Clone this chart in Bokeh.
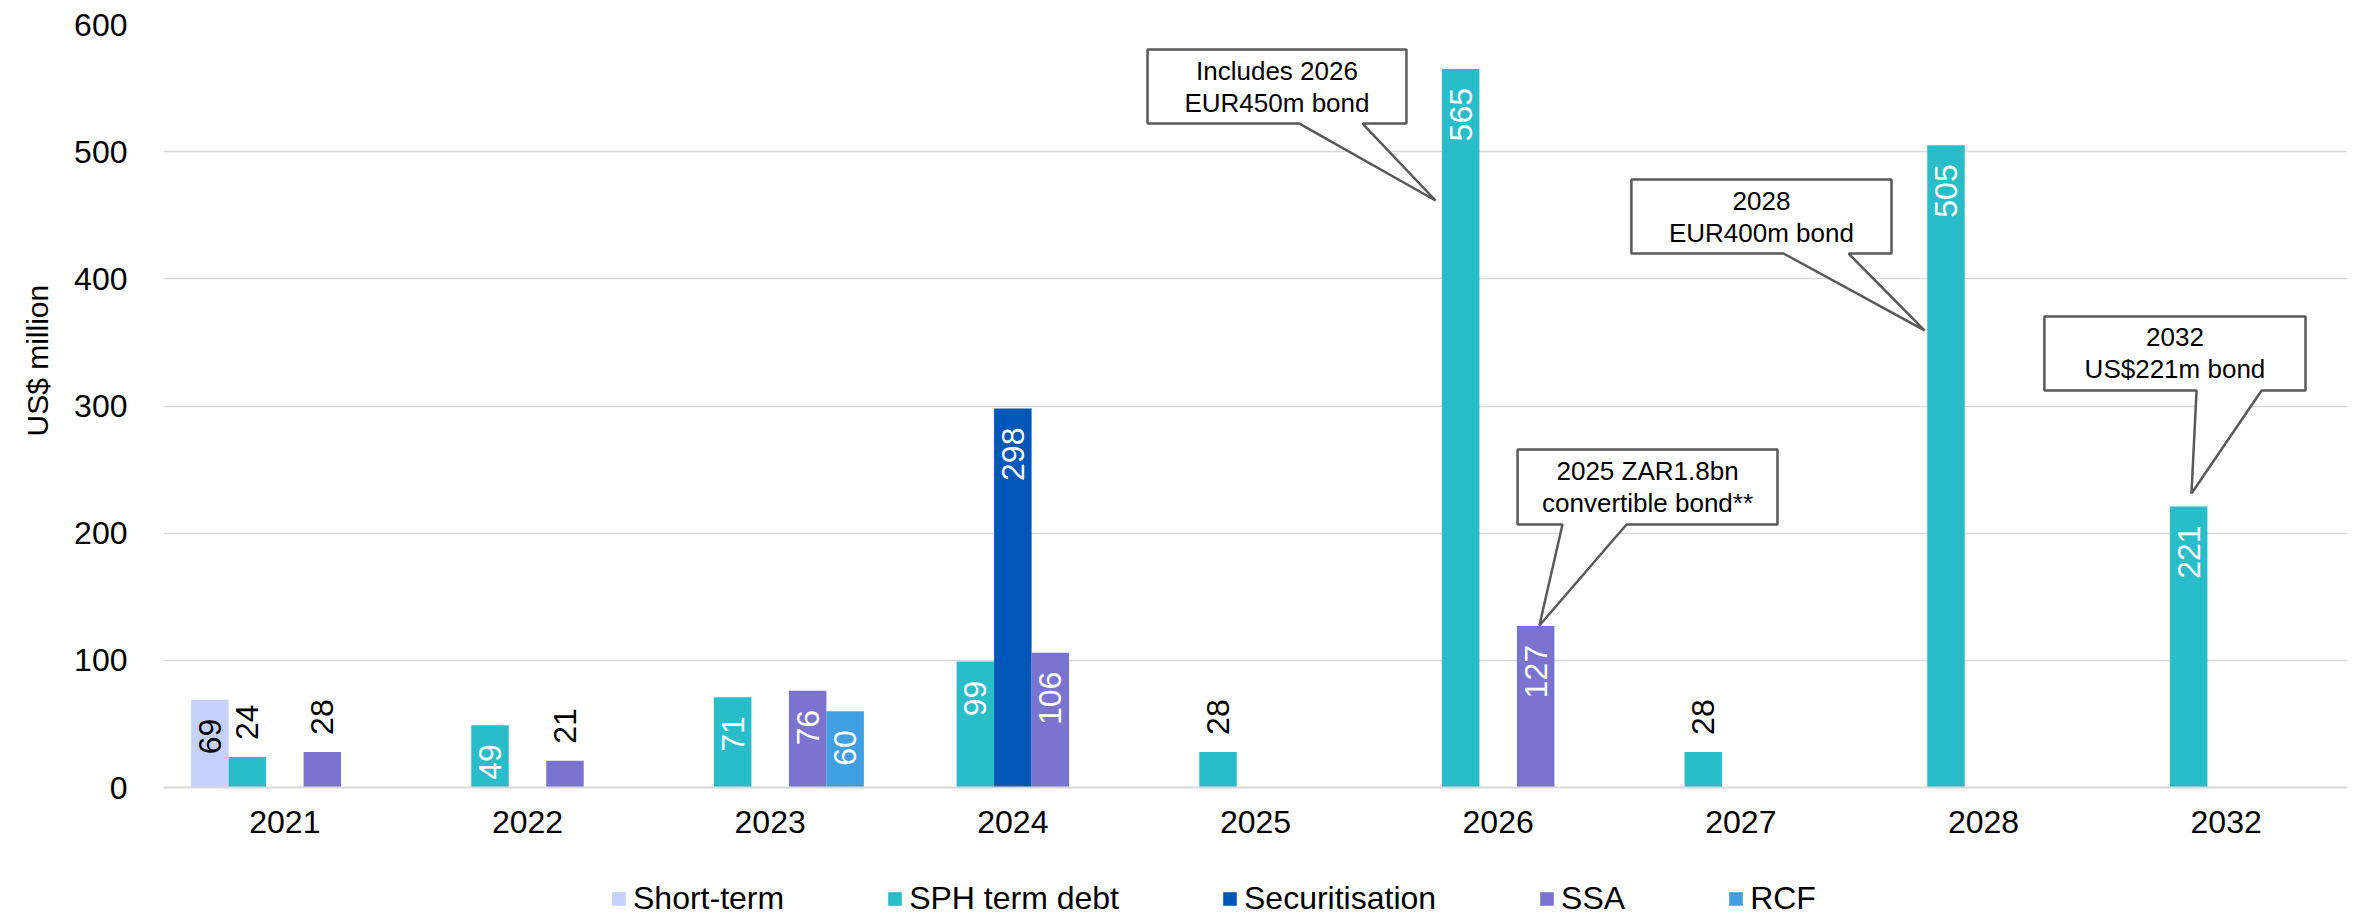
import math
from bokeh.plotting import figure
from bokeh.layouts import column
from bokeh.models import (ColumnDataSource, Range1d, FixedTicker, Legend, LegendItem, Title)
from bokeh.embed import file_html
from bokeh.resources import INLINE
from bokeh.core.properties import value

# ---------------- data ----------------
years = ["2021", "2022", "2023", "2024", "2025", "2026", "2027", "2028", "2032"]
series_names = ["Short-term", "SPH term debt", "Securitisation", "SSA", "RCF"]
short_term = [69, 0, 0, 0, 0, 0, 0, 0, 0]
sph_term_debt = [24, 49, 71, 99, 28, 565, 28, 505, 221]
securitisation = [0, 0, 0, 298, 0, 0, 0, 0, 0]
ssa = [28, 21, 76, 106, 0, 127, 0, 0, 0]
rcf = [0, 0, 60, 0, 0, 0, 0, 0, 0]
y_ticks = [0, 100, 200, 300, 400, 500, 600]

callout_texts = [
    ("Includes 2026", "EUR450m bond"),
    ("2025 ZAR1.8bn", "convertible bond**"),
    ("2028", "EUR400m bond"),
    ("2032", "US$221m bond"),
]

# ---------------- style ----------------
colors = ["#C6D1FA", "#29BDCA", "#0057B8", "#7B73D0", "#3F9FE0"]
label_colors = ["#000000", "#FFFFFF", "#FFFFFF", "#FFFFFF", "#FFFFFF"]
FONT = "Liberation Sans"
W, H = 2354, 917
LEG_H = 57
MAIN_H = H - LEG_H
FL, FR, FT, FB = 163, 2347, 24, 787
Y_MAX = 600
px_per_y = (FB - FT) / Y_MAX
bar_w = 0.1545
slot_offsets = [(k - 2) * bar_w for k in range(5)]

p = figure(width=W, height=MAIN_H, x_range=Range1d(0, len(years)), y_range=Range1d(0, Y_MAX),
           output_backend="svg", toolbar_location=None,
           min_border_left=FL, min_border_right=W - FR, min_border_top=FT,
           min_border_bottom=MAIN_H - FB)
p.outline_line_color = None
p.background_fill_color = "white"
p.border_fill_color = "white"

# grid
p.xgrid.visible = False
p.ygrid.grid_line_color = "#D9D9D9"
p.ygrid.grid_line_width = 1.5
p.ygrid.ticker = FixedTicker(ticks=y_ticks)

# axes
p.yaxis.ticker = FixedTicker(ticks=y_ticks)
p.yaxis.axis_line_color = None
p.yaxis.major_tick_line_color = None
p.yaxis.minor_tick_line_color = None
p.yaxis.major_label_standoff = 30
p.yaxis.major_label_text_font = FONT
p.yaxis.major_label_text_font_size = "32px"
p.yaxis.major_label_text_color = "#000000"

centers = [i + 0.5 for i in range(len(years))]
p.xaxis.ticker = FixedTicker(ticks=centers)
p.xaxis.major_label_overrides = {c: y for c, y in zip(centers, years)}
p.xaxis.axis_line_color = "#D9D9D9"
p.xaxis.axis_line_width = 2
p.xaxis.major_tick_line_color = None
p.xaxis.minor_tick_line_color = None
p.xaxis.major_label_standoff = 17
p.xaxis.major_label_text_font = FONT
p.xaxis.major_label_text_font_size = "32px"
p.xaxis.major_label_text_color = "#000000"

# bars
all_series = [short_term, sph_term_debt, securitisation, ssa, rcf]
lab_x, lab_y, lab_t, lab_c, lab_a = [], [], [], [], []
pad_in = 19 / px_per_y
pad_out = 17 / px_per_y
for k, (name, vals) in enumerate(zip(series_names, all_series)):
    xs = [centers[i] + slot_offsets[k] for i, v in enumerate(vals) if v]
    tops = [v for v in vals if v]
    src = ColumnDataSource(dict(x=xs, top=tops))
    p.vbar(x="x", top="top", width=bar_w, bottom=0, source=src,
           fill_color=colors[k], line_color=None)
    for x, v in zip(xs, tops):
        if v < 30:
            lab_x.append(x); lab_y.append(v + pad_out); lab_t.append(str(v))
            lab_c.append("#000000"); lab_a.append("left")
        else:
            lab_x.append(x); lab_y.append(v - pad_in); lab_t.append(str(v))
            lab_c.append(label_colors[k]); lab_a.append("right")

lsrc = ColumnDataSource(dict(x=lab_x, y=lab_y, t=lab_t, c=lab_c, a=lab_a))
p.text(x="x", y="y", text="t", source=lsrc, angle=math.pi / 2, text_color="c",
       text_align="a", text_baseline="middle", text_font=value(FONT), text_font_size="32px")

# callouts (box + pointer), in data coordinates
callouts = [
    dict(box=(4.055, 5.122, 522.1, 580.3), base=(4.681, 4.941), tip=(5.242, 461.6)),
    dict(box=(5.580, 6.651, 206.8, 265.8), base=(5.765, 6.029), tip=(5.670, 127.4)),
    dict(box=(6.049, 7.121, 419.9, 478.1), base=(6.676, 6.944), tip=(7.257, 359.4)),
    dict(box=(7.751, 8.827, 312.2, 370.4), base=(8.378, 8.646), tip=(8.357, 231.2)),
]
pxs, pys, tx, ty, tt = [], [], [], [], []
line_gap = 16 / px_per_y
for c, (l1, l2) in zip(callouts, callout_texts):
    x0, x1, y0, y1 = c["box"]
    b0, b1 = c["base"]
    tx_, ty_ = c["tip"]
    pxs.append([x0, x1, x1, b1, tx_, b0, x0])
    pys.append([y1, y1, y0, y0, ty_, y0, y0])
    cx, cy = (x0 + x1) / 2, (y0 + y1) / 2
    tx += [cx, cx]; ty += [cy + line_gap, cy - line_gap]; tt += [l1, l2]

p.patches(xs=pxs, ys=pys, fill_color="white", line_color="#595959", line_width=2.5)
p.text(x=tx, y=ty, text=tt, text_align="center", text_baseline="middle",
       text_font=value(FONT), text_font_size="26px", text_color="#000000")

# y axis title (placed off-centre as in the reference)
p.add_layout(Title(text="US$ million", align="left", offset=351, standoff=35,
                   text_font=FONT, text_font_size="30px", text_font_style="normal",
                   text_color="#000000"), "left")

# ---------------- legend strip ----------------
lg = figure(width=W, height=LEG_H, x_range=Range1d(0, W), y_range=Range1d(0, LEG_H),
            output_backend="svg", toolbar_location=None,
            min_border_left=0, min_border_right=0, min_border_top=0, min_border_bottom=0)
lg.axis.visible = False
lg.grid.visible = False
lg.outline_line_color = None
lg.background_fill_color = "white"
lg.border_fill_color = "white"
items = []
for k, name in enumerate(series_names):
    # legend-only renderer: a zero-height bar far outside the visible range
    r = lg.vbar(x=[-5000], top=[0], bottom=0, width=1, fill_color=colors[k], line_color=None)
    items.append(LegendItem(label=name, renderers=[r]))
legend = Legend(items=items, orientation="horizontal", location=(610 - FL, 0),
                glyph_width=17, glyph_height=17, label_standoff=6, spacing=102,
                padding=0, margin=0, border_line_alpha=0, background_fill_alpha=0,
                label_text_font=FONT, label_text_font_size="32px", label_text_color="#000000")
lg.add_layout(legend, "center")

layout = column(p, lg, spacing=0)
open("out.html", "w").write(file_html(layout, INLINE))
